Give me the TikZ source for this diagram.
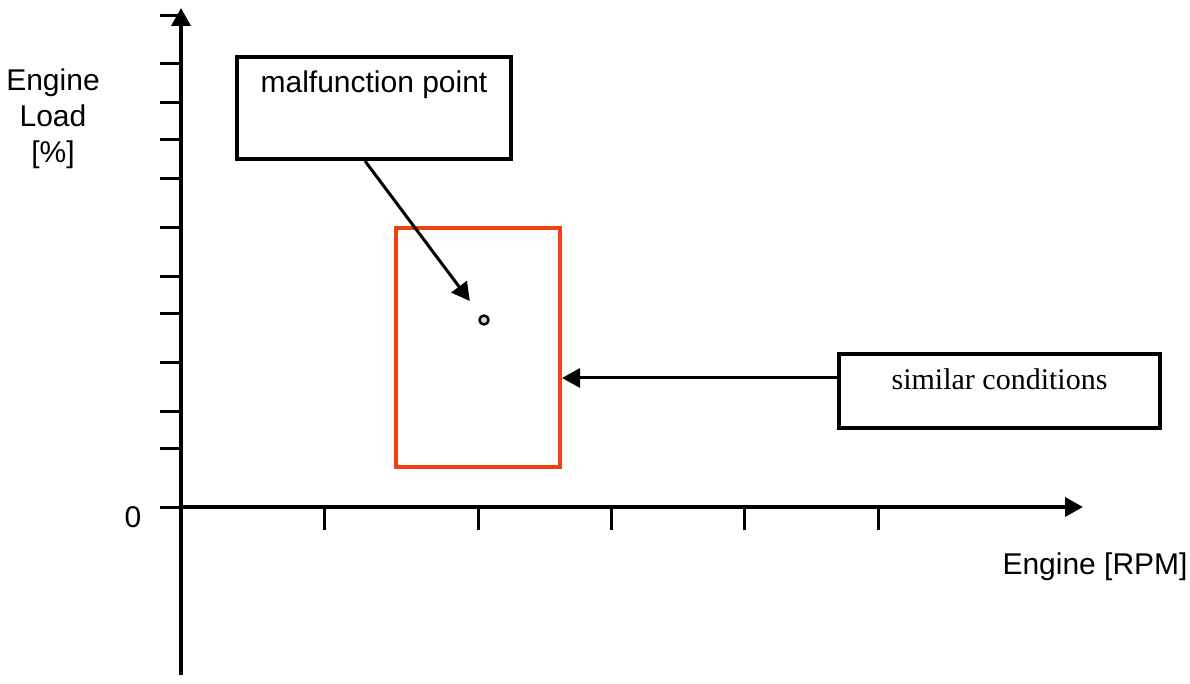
\documentclass[tikz,border=0pt]{standalone}
\usepackage{fontspec}
\setmainfont{Liberation Sans}
\newfontfamily\serifbox{Liberation Serif}
\usetikzlibrary{arrows.meta}

\definecolor{regionred}{RGB}{240,65,15}
\definecolor{pointfill}{RGB}{200,225,230}

\begin{document}
\begin{tikzpicture}[x=0.5pt, y=-0.5pt, >={Triangle[length=9pt,width=9.5pt]}, font=\fontsize{15}{18}\selectfont]
        \tikzstyle{axis}=[line width=1.8pt]
        \tikzstyle{tick}=[line width=1.5pt]
        \tikzstyle{textbox}=[draw=black,line width=2pt,inner sep=0pt,fill=white]
        \tikzstyle{callout}=[->,line width=1.5pt]
        \useasboundingbox (0,0) rectangle (1190,684);
        % axes
        \coordinate (origin) at (181,507);
        \coordinate (ybottom) at (181,675);
        \coordinate (ytop) at (181,8);
        \coordinate (xend) at (1083,507);
        \draw[axis,->] (ybottom) -- (ytop);
        \draw[axis,->] (origin) -- (xend);
        \foreach \y in {16,64,103,140,179,228,277,314,363,412,449,507}
          \draw[tick] (160,\y) -- (181,\y);
        \foreach \x in {324,478,611,744,878}
          \draw[tick] (\x,507) -- (\x,530);
        \node[align=center]              (ylabel) at (53,119)   {Engine\\Load\\[0pt][\%]};
        \node                            (zero)   at (133,517)  {0};
        \node[anchor=east,inner sep=0pt] (xlabel) at (1188,567) {Engine [RPM]};
        % region and point
        \node[draw=regionred,line width=2pt,minimum width=82pt,minimum height=119.5pt] (region) at (478,347.5) {};
        \node[circle,draw=black,fill=pointfill,line width=1.2pt,inner sep=0pt,minimum size=4.5pt] (fault) at (484,320) {};
        % boxes
        \node[textbox,minimum width=137pt,text height=18pt,text depth=33pt]  (malf)    at (374,108)   {malfunction point};
        \node[textbox,minimum width=160.5pt,text height=18pt,text depth=19pt,font=\serifbox\fontsize{15}{18}\selectfont] (similar) at (999.5,391) {similar conditions};
        \draw[callout,shorten >=9pt] ([xshift=-4.5pt]malf.south) -- (fault);
        \draw[callout] ([yshift=6.5pt]similar.west) -- ([yshift=6.5pt]similar.west -| region.east);
\end{tikzpicture}
\end{document}
